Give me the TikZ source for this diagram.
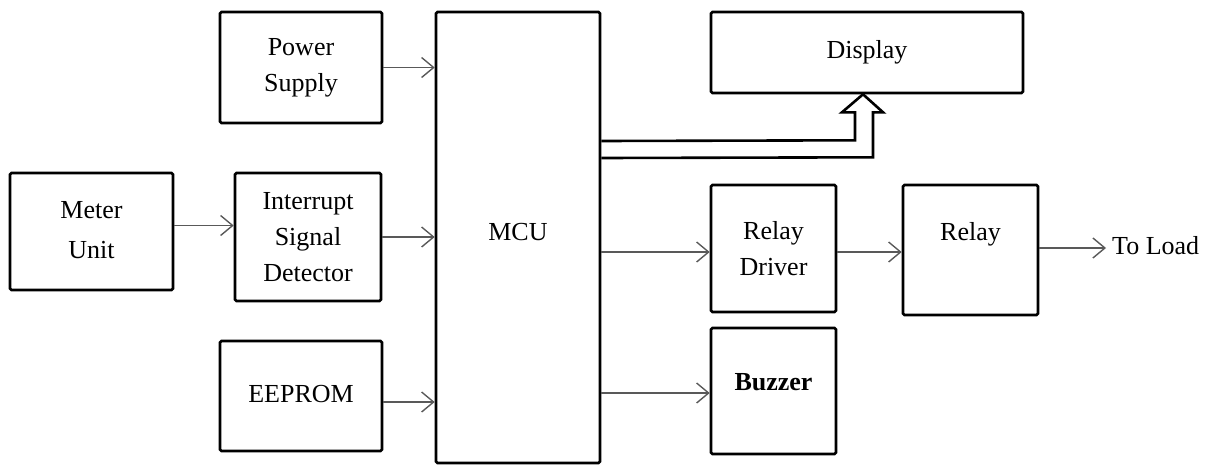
\documentclass[tikz,border=0pt]{standalone}
\usepackage{fontspec}
\setmainfont{Liberation Serif}
\usetikzlibrary{arrows.meta,calc}

\begin{document}
\begin{tikzpicture}[x=1pt,y=-1pt,
  font=\fontsize{26}{36}\selectfont,
  blk/.style={draw=black,line width=2.6pt,rounded corners=1.5pt,align=center,inner sep=0pt},
  arr/.style={-{Straight Barb[length=12pt,width=20pt]},line width=1.4pt,color=black!65},
  dbl/.style={line width=2.6pt,line join=miter}]
\useasboundingbox (0,0) rectangle (1219,467);
\node[blk,minimum width=162pt,minimum height=111pt] (ps) at (301,67.5) {Power\\Supply};
\node[blk,minimum width=164pt,minimum height=451pt] (mcu) at (518,237.5) {\raisebox{12pt}{MCU}};
\node[blk,minimum width=312pt,minimum height=81pt] (disp) at (867,52.5) {\raisebox{3pt}{Display}};
\node[blk,minimum width=163pt,minimum height=117pt] (meter) at (91.5,231.5) {\raisebox{6pt}{\begin{tabular}{@{}c@{}}Meter\\[4pt]Unit\end{tabular}}};
\node[blk,minimum width=146pt,minimum height=128pt] (isd) at (308,237) {Interrupt\\Signal\\Detector};
\node[blk,minimum width=162pt,minimum height=110pt] (eeprom) at (301,396) {\raisebox{4pt}{EEPROM}};
\node[blk,minimum width=125pt,minimum height=127pt] (rd) at (773.5,248.5) {Relay\\Driver};
\node[blk,minimum width=135pt,minimum height=130pt] (relay) at (970.5,250) {\raisebox{38pt}{Relay}};
\node[blk,minimum width=125pt,minimum height=126pt] (buzzer) at (773.5,391) {\raisebox{18pt}{\bfseries Buzzer}};
\node[anchor=west,inner sep=0pt] (load) at (1112,246) {To Load};
\draw[arr] (ps.east) -- (ps.east -| mcu.west);
\draw[arr] ([yshift=6pt]meter.east) -- ([yshift=6pt]meter.east -| isd.west);
\draw[arr] (isd.east) -- (isd.east -| mcu.west);
\draw[arr] ([yshift=-6pt]eeprom.east) -- ([yshift=-6pt]eeprom.east -| mcu.west);
\draw[arr] (mcu.east |- 0,252) -- (rd.west |- 0,252);
\draw[arr] (mcu.east |- 0,393) -- (buzzer.west |- 0,393);
\draw[arr] (rd.east |- 0,252) -- (relay.west |- 0,252);
\draw[arr] (relay.east |- 0,248) -- ([xshift=-6pt]load.west |- 0,248);
% double line bus to the display
\coordinate (tip) at ([xshift=-4pt]disp.south);
\draw[dbl] (mcu.east |- 0,141) -- ($(tip)+(-8,46)$) -- ($(tip)+(-8,18)$) -- ($(tip)+(-21,18)$) -- (tip)
  -- ($(tip)+(20,18)$) -- ($(tip)+(10,18)$) -- ($(tip)+(10,63)$) -- (mcu.east |- 0,158);
\end{tikzpicture}
\end{document}
